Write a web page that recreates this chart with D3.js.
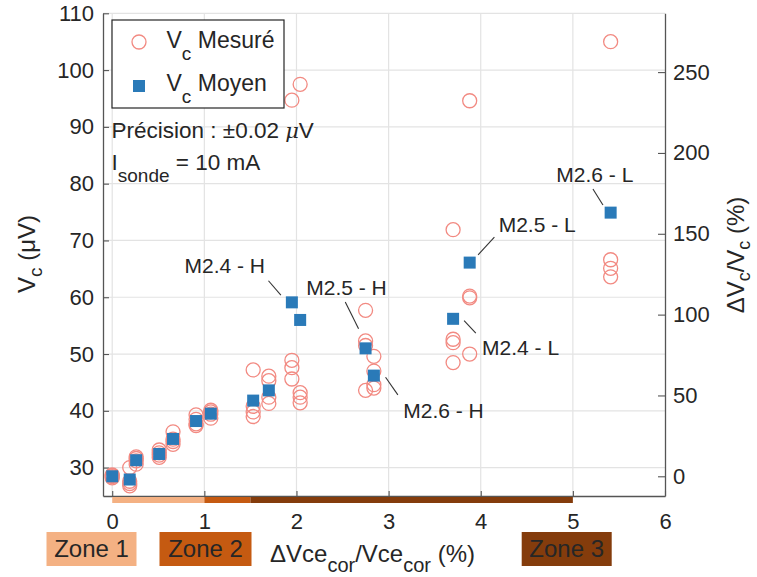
<!DOCTYPE html>
<html><head><meta charset="utf-8">
<script src="https://cdn.jsdelivr.net/npm/d3@7"></script>
<style>
body{margin:0;background:#fff;}
svg{display:block;}
text{font-family:"Liberation Sans",Arial,sans-serif;fill:#262626;}
</style></head>
<body>
<svg id="chart" width="757" height="577"></svg>
<script>
// ---------- data ----------
const meanX    = [0.00, 0.19, 0.26, 0.51, 0.66, 0.91, 1.07, 1.53, 1.70, 1.95, 2.04, 2.75, 2.84, 3.70, 3.88, 5.41];
const meanVc   = [28.47, 27.9, 31.3, 32.4, 35.05, 38.2, 39.5, 41.8, 43.6, 59.1, 56.0, 51.0, 46.2, 56.2, 66.1, 74.9];
const measX    = [0,0,0,0, 0.19,0.19,0.19,0.19, 0.26,0.26,0.26,0.26, 0.51,0.51,0.51,0.51,
                  0.66,0.66,0.66,0.66, 0.91,0.91,0.91,0.91, 1.07,1.07,1.07,1.07, 1.53,1.53,1.53,1.53,
                  1.70,1.70,1.70,1.70, 1.95,1.95,1.95,1.95, 2.04,2.04,2.04,2.04, 2.75,2.75,2.75,2.75,
                  2.84,2.84,2.84,2.84, 3.70,3.70,3.70,3.70, 3.88,3.88,3.88,3.88, 5.41,5.41,5.41,5.41];
const measVc   = [28.2,28.4,28.6,28.7, 30.0,27.6,27.2,26.8, 31.9,31.6,31.2,30.6, 33.1,32.6,32.2,31.8,
                  36.3,35.0,34.6,34.1, 39.3,38.5,37.7,37.4, 40.1,39.8,39.4,38.7, 47.2,40.8,39.8,39.0,
                  46.1,45.3,42.4,41.3, 94.7,48.9,47.6,45.6, 97.5,43.2,42.4,41.4, 57.7,52.3,51.5,43.6,
                  49.6,47.0,44.6,44.0, 71.9,52.6,52.0,48.5, 94.6,60.2,59.9,50.0, 105.0,66.6,65.1,63.6];
const annotText  = ["M2.4 - H","M2.5 - H","M2.6 - H","M2.4 - L","M2.5 - L","M2.6 - L"];
const annotIndex = [9, 11, 12, 13, 14, 15];
const xTicks   = [0,1,2,3,4,5,6];
const yTicks   = [30,40,50,60,70,80,90,100,110];
const y2Ticks  = [0,50,100,150,200,250];
const zoneNames = ["Zone 1","Zone 2","Zone 3"];
const zoneStart = [0, 1, 1.5];
const zoneEnd   = [1, 1.5, 5];

// ---------- layout / style ----------
const zoneColors = ["#F4B183","#C55A11","#843C0C"];
const zoneBoxCx  = [91.5, 205.5, 566.7];
const zoneBoxW   = [90, 92, 90];
const annotLayout = [ // text dx,dy ; line x1,y1,x2,y2 (relative to marker)
  {tx:-107.4,ty:-29, l:[-23.4,-21.6,-11,-7.3]},
  {tx:-59.3, ty:-53, l:[-20.3,-46.3,-7,-19.7]},
  {tx:29.4,  ty:42.6,l:[11.7,1.6,24,19.3]},
  {tx:29,    ty:36,  l:[11,1.7,22.7,14.3]},
  {tx:29,    ty:-31, l:[24.7,-25.4,8.4,-7.7]},
  {tx:-54.3, ty:-31, l:[-17.7,-23.7,-7.7,-7.7]}
];
const L = 103, R = 665, T = 13.3, B = 496;
const circleColor = "#F28A82", squareColor = "#2A7AB8", axisColor = "#555", gridColor = "#e3e3e3";

const svg = d3.select("#chart");
const x  = d3.scaleLinear().domain([-0.1, 6]).range([L, R]);
const y  = d3.scaleLinear().domain([25, 110]).range([B, T]);
const V0 = meanVc[0];
const y2 = d3.scaleLinear().domain([(25/V0-1)*100, (110/V0-1)*100]).range([B, T]);

// grid
svg.append("g").selectAll("line.gx").data(xTicks.filter(d=>d<6)).join("line")
  .attr("x1",d=>x(d)).attr("x2",d=>x(d)).attr("y1",T).attr("y2",B)
  .attr("stroke",gridColor).attr("stroke-width",1.2);
svg.append("g").selectAll("line.gy").data(yTicks).join("line")
  .attr("x1",L).attr("x2",R).attr("y1",d=>y(d)).attr("y2",d=>y(d))
  .attr("stroke",gridColor).attr("stroke-width",1.2);

// axes
function styleAxis(g){
  g.select(".domain").attr("stroke",axisColor).attr("stroke-width",1.3);
  g.selectAll(".tick line").attr("stroke",axisColor).attr("stroke-width",1.1);
  g.selectAll(".tick text").attr("font-size",22).attr("fill","#262626")
   .attr("font-family","Liberation Sans, Arial, sans-serif");
}
const fmt = d3.format("d");
svg.append("g").attr("transform",`translate(${L},0)`)
  .call(d3.axisLeft(y).tickValues(yTicks).tickFormat(fmt).tickSizeInner(-6).tickSizeOuter(0).tickPadding(9)).call(styleAxis);
svg.append("g").attr("transform",`translate(${R},0)`)
  .call(d3.axisRight(y2).tickValues(y2Ticks).tickFormat(fmt).tickSizeInner(-7).tickSizeOuter(0).tickPadding(8)).call(styleAxis);
svg.append("g").attr("transform",`translate(0,${B})`)
  .call(d3.axisBottom(x).tickValues(xTicks).tickFormat(fmt).tickSizeInner(-5).tickSizeOuter(0).tickPadding(17)).call(styleAxis);

// zone bars under axis
svg.append("g").selectAll("rect").data(zoneNames).join("rect")
  .attr("x",(d,i)=>x(zoneStart[i])).attr("width",(d,i)=>x(zoneEnd[i])-x(zoneStart[i]))
  .attr("y",B+1).attr("height",6).attr("fill",(d,i)=>zoneColors[i]);

// zone label boxes
const zg = svg.append("g").selectAll("g").data(zoneNames).join("g");
zg.append("rect").attr("x",(d,i)=>zoneBoxCx[i]-zoneBoxW[i]/2).attr("width",(d,i)=>zoneBoxW[i])
  .attr("y",532).attr("height",34).attr("fill",(d,i)=>zoneColors[i]);
zg.append("text").attr("x",(d,i)=>zoneBoxCx[i]).attr("y",557).attr("text-anchor","middle")
  .attr("font-family","Open Sans, Noto Sans, sans-serif").attr("font-size",24).attr("fill","#2a2a2a").text(d=>d);

// measured circles
svg.append("g").selectAll("circle").data(measVc).join("circle")
  .attr("cx",(d,i)=>x(measX[i])).attr("cy",d=>y(d)).attr("r",7)
  .attr("fill","none").attr("stroke",circleColor).attr("stroke-width",1.3);

// mean squares
svg.append("g").selectAll("rect").data(meanVc).join("rect")
  .attr("x",(d,i)=>x(meanX[i])-6).attr("y",d=>y(d)-6).attr("width",12).attr("height",12)
  .attr("fill",squareColor);

// annotations
const ag = svg.append("g");
annotText.forEach((t,k)=>{
  const i = annotIndex[k], cx = x(meanX[i]), cy = y(meanVc[i]), a = annotLayout[k];
  ag.append("line").attr("x1",cx+a.l[0]).attr("y1",cy+a.l[1]).attr("x2",cx+a.l[2]).attr("y2",cy+a.l[3])
    .attr("stroke","#333").attr("stroke-width",1.1);
  ag.append("text").attr("x",cx+a.tx).attr("y",cy+a.ty).attr("font-size",21).text(t);
});

// legend
const lg = svg.append("g");
lg.append("rect").attr("x",112).attr("y",20).attr("width",172).attr("height",88)
  .attr("fill","#fff").attr("stroke","#262626").attr("stroke-width",1.2);
lg.append("circle").attr("cx",139).attr("cy",42).attr("r",7).attr("fill","none")
  .attr("stroke",circleColor).attr("stroke-width",1.3);
lg.append("rect").attr("x",133).attr("y",80).attr("width",12).attr("height",12).attr("fill",squareColor);
function subText(g, xx, yy, main, sub, rest, fs, sfs, shift){
  const t = g.append("text").attr("x",xx).attr("y",yy).attr("font-size",fs);
  t.append("tspan").text(main);
  t.append("tspan").attr("dy",shift).attr("font-size",sfs).text(sub);
  t.append("tspan").attr("dy",-shift).text(rest);
  return t;
}
subText(lg,166.5,47.5,"V","c"," Mesuré",23,19,12);
subText(lg,166.5,91,"V","c"," Moyen",23,19,12);

// info text
const p = svg.append("text").attr("x",111.5).attr("y",138).attr("font-size",22.5);
p.append("tspan").text("Précision : ±0.02 ");
p.append("tspan").attr("font-family","DejaVu Serif, serif").attr("font-style","italic").attr("font-size",21).text("μ");
p.append("tspan").text("V");
subText(svg,111.5,170,"I","sonde"," = 10 mA",22.5,19,11.5);

// x label
const xl = svg.append("text").attr("x",270).attr("y",562).attr("font-size",24);
xl.append("tspan").text("ΔVce");
xl.append("tspan").attr("dy",10).attr("font-size",20).text("cor");
xl.append("tspan").attr("dy",-10).text("/Vce");
xl.append("tspan").attr("dy",10).attr("font-size",20).text("cor");
xl.append("tspan").attr("dy",-10).text(" (%)");

// left y label
const yl = svg.append("text").attr("transform","translate(35,254) rotate(-90)")
  .attr("text-anchor","middle").attr("font-size",24);
yl.append("tspan").text("V");
yl.append("tspan").attr("dy",7).attr("font-size",19).text("c");
yl.append("tspan").attr("dy",-7).text(" (μV)");

// right y label
const yr = svg.append("text").attr("transform","translate(744,255) rotate(-90)")
  .attr("text-anchor","middle").attr("font-size",24);
yr.append("tspan").text("ΔV");
yr.append("tspan").attr("dy",6).attr("font-size",18).text("c");
yr.append("tspan").attr("dy",-6).text("/V");
yr.append("tspan").attr("dy",6).attr("font-size",18).text("c");
yr.append("tspan").attr("dy",-6).text(" (%)");
</script>
</body></html>
